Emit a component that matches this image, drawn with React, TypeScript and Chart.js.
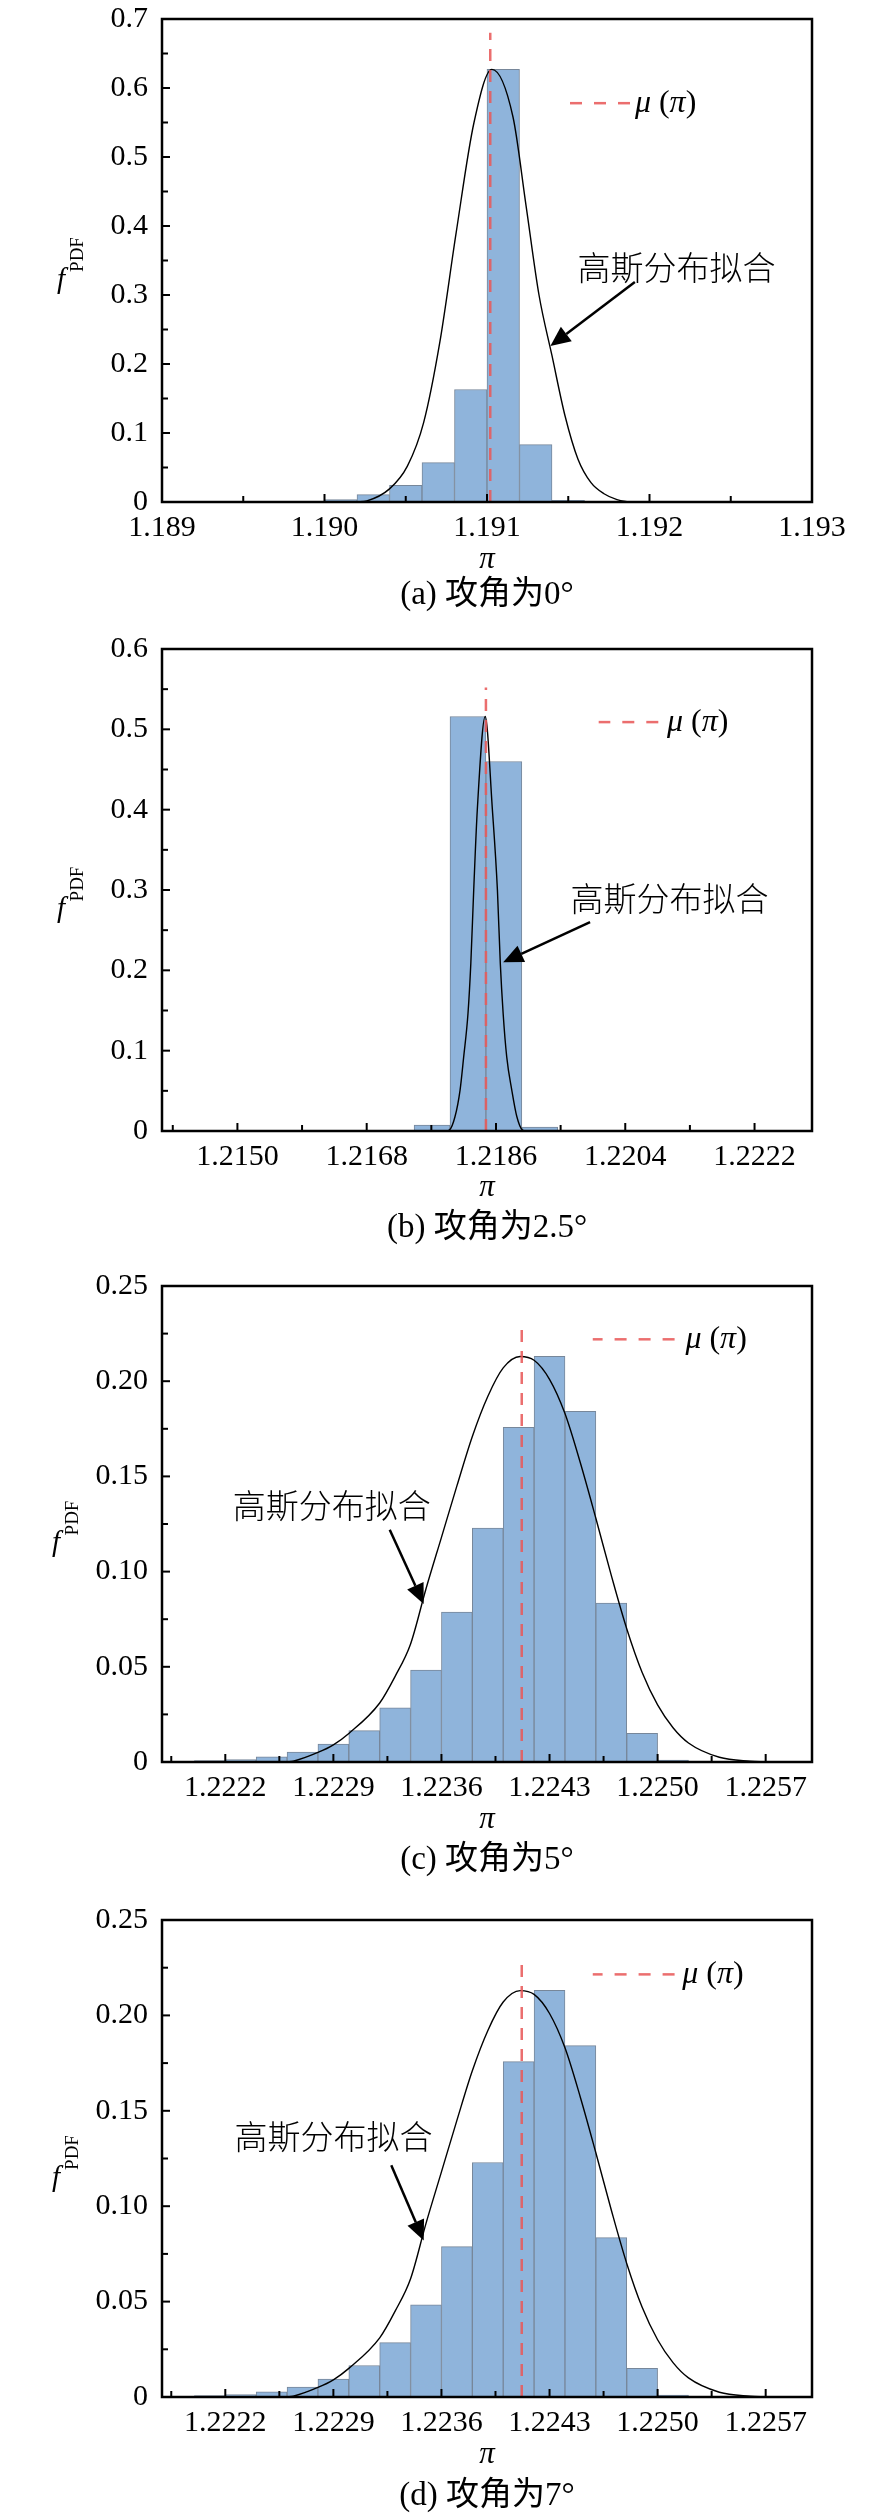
"use client"

import { useEffect, useRef } from "react"
import { Chart, registerables, type ChartConfiguration, type Plugin } from "chart.js"

Chart.register(...registerables)

// (a) 攻角为0°
const binsA = [1.1901, 1.1903, 1.1905, 1.1907, 1.1909, 1.1911, 1.1913, 1.1915]
const pdfA = [0.0035, 0.0107, 0.0242, 0.057, 0.163, 0.627, 0.0832, 0.0025]
const fitXA = [1.1902, 1.19026, 1.1904, 1.19051, 1.19061, 1.19071, 1.19081, 1.19092, 1.19103, 1.19116, 1.19124, 1.19132, 1.1914, 1.19148, 1.19156, 1.19164, 1.19172, 1.1918, 1.19188]
const fitYA = [0, 0.0015, 0.019, 0.052, 0.115, 0.232, 0.39, 0.55, 0.627, 0.558, 0.43, 0.3, 0.212, 0.125, 0.062, 0.028, 0.012, 0.0035, 0]
const meanA = 1.19102
const xTicksA = [1.189, 1.19, 1.191, 1.192, 1.193]
const yTicksA = [0, 0.1, 0.2, 0.3, 0.4, 0.5, 0.6, 0.7]

// (b) 攻角为2.5°
const binsB = [1.21771, 1.21821, 1.21871, 1.21921]
const pdfB = [0.0075, 0.516, 0.46, 0.005]
const fitXB = [1.2179, 1.21795, 1.21803, 1.2181, 1.21815, 1.21821, 1.21825, 1.21829, 1.21834, 1.21845, 1.21855, 1.21862, 1.21866, 1.2187, 1.21875, 1.21882, 1.21889, 1.21897, 1.21902]
const fitYB = [0, 0.001, 0.018, 0.051, 0.092, 0.146, 0.209, 0.3, 0.4, 0.516, 0.4, 0.3, 0.209, 0.146, 0.092, 0.051, 0.018, 0.001, 0]
const meanB = 1.21846
const xTicksB = [1.215, 1.2168, 1.2186, 1.2204, 1.2222]
const yTicksB = [0, 0.1, 0.2, 0.3, 0.4, 0.5, 0.6]

// (c) 攻角为5° and (d) 攻角为7° show the same histogram
const binsC = [1.2221, 1.2223, 1.2225, 1.2227, 1.2229, 1.2231, 1.2233, 1.2235, 1.2237, 1.2239, 1.2241, 1.2243, 1.2245, 1.2247, 1.2249, 1.2251]
const pdfC = [0.0008, 0.0013, 0.0027, 0.0052, 0.0094, 0.0165, 0.0285, 0.0483, 0.0788, 0.1229, 0.1758, 0.2131, 0.1842, 0.0835, 0.015, 0.001]
const fitXC = [1.2226, 1.22264, 1.2228, 1.2229, 1.223, 1.2232, 1.2233, 1.2234, 1.2235, 1.2236, 1.2237, 1.2238, 1.2239, 1.224, 1.22411, 1.2242, 1.2243, 1.2244, 1.2245, 1.2246, 1.2247, 1.2248, 1.2249, 1.225, 1.2251, 1.2252, 1.2254, 1.2256, 1.2257]
const fitYC = [0, 0.0004, 0.005, 0.009, 0.015, 0.031, 0.045, 0.062, 0.091, 0.118, 0.145, 0.171, 0.192, 0.207, 0.213, 0.211, 0.201, 0.183, 0.157, 0.128, 0.098, 0.07, 0.047, 0.03, 0.018, 0.01, 0.0025, 0.0004, 0]
const meanC = 1.22412
const xTicksC = [1.2222, 1.2229, 1.2236, 1.2243, 1.225, 1.2257]
const yTicksC = [0, 0.05, 0.1, 0.15, 0.2, 0.25]

const W = 886
const H = 630
const PLOT_LEFT = 162
const PLOT_RIGHT = 812
const SERIF = '"Liberation Serif", "Times New Roman", serif'
const MIXED = '"Liberation Serif", "Noto Sans CJK SC", serif'
const CJK = '"Noto Sans CJK SC", sans-serif'
const RED = "rgba(232, 90, 90, 0.88)"
const BAR_FILL = "#8fb4db"
const BAR_EDGE = "#77879a"

interface PanelSpec {
  bins: number[]
  pdf: number[]
  fitX: number[]
  fitY: number[]
  mean: number
  meanTop: number
  xMin: number
  xMax: number
  xTicks: number[]
  xDecimals: number
  yMax: number
  yTicks: number[]
  yDecimals: number
  caption: string
  plotTop: number
  plotBottom: number
  yTitleX: number
  piY: number
  captionY: number
  // legend and note anchors, in data units
  legend: { x1: number; x2: number; y: number; textX: number }
  note: { x: number; y: number; fromX: number; fromY: number; toX: number; toY: number }
}

const panels: PanelSpec[] = [
  {
    bins: binsA, pdf: pdfA, fitX: fitXA, fitY: fitYA, mean: meanA, meanTop: 0.68,
    xMin: 1.189, xMax: 1.193, xTicks: xTicksA, xDecimals: 3,
    yMax: 0.7, yTicks: yTicksA, yDecimals: 1,
    caption: "(a) 攻角为0°",
    plotTop: 19, plotBottom: 502, yTitleX: 61, piY: 560, captionY: 595,
    legend: { x1: 1.19151, x2: 1.19188, y: 0.578, textX: 1.19191 },
    note: { x: 1.192166, y: 0.34, fromX: 1.19191, fromY: 0.319, toX: 1.19139, toY: 0.226 },
  },
  {
    bins: binsB, pdf: pdfB, fitX: fitXB, fitY: fitYB, mean: meanB, meanTop: 0.552,
    xMin: 1.21395, xMax: 1.223, xTicks: xTicksB, xDecimals: 4,
    yMax: 0.6, yTicks: yTicksB, yDecimals: 1,
    caption: "(b) 攻角为2.5°",
    plotTop: 19, plotBottom: 501, yTitleX: 61, piY: 558, captionY: 598,
    legend: { x1: 1.22003, x2: 1.22086, y: 0.509, textX: 1.22098 },
    note: { x: 1.221015, y: 0.289, fromX: 1.21991, fromY: 0.26, toX: 1.2187, toY: 0.21 },
  },
  {
    bins: binsC, pdf: pdfC, fitX: fitXC, fitY: fitYC, mean: meanC, meanTop: 0.23,
    xMin: 1.22179, xMax: 1.226, xTicks: xTicksC, xDecimals: 4,
    yMax: 0.25, yTicks: yTicksC, yDecimals: 2,
    caption: "(c) 攻角为5°",
    plotTop: 26, plotBottom: 502, yTitleX: 56, piY: 560, captionY: 600,
    legend: { x1: 1.22458, x2: 1.22511, y: 0.222, textX: 1.22518 },
    note: { x: 1.22289, y: 0.135, fromX: 1.223265, fromY: 0.122, toX: 1.223485, toY: 0.083 },
  },
  {
    bins: binsC, pdf: pdfC, fitX: fitXC, fitY: fitYC, mean: meanC, meanTop: 0.23,
    xMin: 1.22179, xMax: 1.226, xTicks: xTicksC, xDecimals: 4,
    yMax: 0.25, yTicks: yTicksC, yDecimals: 2,
    caption: "(d) 攻角为7°",
    plotTop: 30, plotBottom: 507, yTitleX: 56, piY: 565, captionY: 606,
    legend: { x1: 1.22458, x2: 1.22511, y: 0.2215, textX: 1.22516 },
    note: { x: 1.2229, y: 0.1366, fromX: 1.223275, fromY: 0.1214, toX: 1.223485, toY: 0.082 },
  },
]

function minorTicks(majors: number[], lo: number, hi: number) {
  const step = majors[1] - majors[0]
  const out: number[] = []
  for (let i = -1; i < majors.length; i++) {
    const v = (i < 0 ? majors[0] - step : majors[i]) + step / 2
    if (v > lo + 1e-9 && v < hi - 1e-9) out.push(v)
  }
  return out
}

function decor(spec: PanelSpec): Plugin<"bar"> {
  return {
    id: "decor",
    afterDraw(chart) {
      const { ctx, chartArea: a, scales } = chart
      const X = (v: number) => scales.x.getPixelForValue(v)
      const Y = (v: number) => scales.y.getPixelForValue(v)
      const line = (x1: number, y1: number, x2: number, y2: number) => {
        ctx.beginPath()
        ctx.moveTo(x1, y1)
        ctx.lineTo(x2, y2)
        ctx.stroke()
      }
      ctx.save()

      // frame and inward ticks
      ctx.strokeStyle = "#000"
      ctx.lineWidth = 2.5
      ctx.strokeRect(a.left, a.top, a.right - a.left, a.bottom - a.top)
      ctx.lineWidth = 2
      spec.xTicks.forEach((v) => line(X(v), a.bottom, X(v), a.bottom - 8))
      minorTicks(spec.xTicks, spec.xMin, spec.xMax).forEach((v) => line(X(v), a.bottom, X(v), a.bottom - 6))
      spec.yTicks.forEach((v) => line(a.left, Y(v), a.left + 8, Y(v)))
      minorTicks(spec.yTicks, 0, spec.yMax).forEach((v) => line(a.left, Y(v), a.left + 6, Y(v)))

      // legend
      const lg = spec.legend
      ctx.strokeStyle = RED
      ctx.lineWidth = 2.5
      ctx.setLineDash([12, 12])
      line(X(lg.x2), Y(lg.y), X(lg.x1), Y(lg.y))
      ctx.setLineDash([])
      ctx.fillStyle = "#000"
      ctx.textBaseline = "middle"
      ctx.textAlign = "left"
      let tx = X(lg.textX)
      const ty = Y(lg.y)
      const parts: [string, boolean][] = [["μ", true], [" (", false], ["π", true], [")", false]]
      parts.forEach(([s, it]) => {
        ctx.font = `${it ? "italic " : ""}32px ${SERIF}`
        ctx.fillText(s, tx, ty)
        tx += ctx.measureText(s).width
      })

      // note with arrow
      const nt = spec.note
      ctx.font = `300 33px ${CJK}`
      ctx.textAlign = "center"
      ctx.fillText("高斯分布拟合", X(nt.x), Y(nt.y))
      const fx = X(nt.fromX), fy = Y(nt.fromY), ex = X(nt.toX), ey = Y(nt.toY)
      const ang = Math.atan2(ey - fy, ex - fx)
      const hl = 20, hw = 9
      const bx = ex - hl * Math.cos(ang), by = ey - hl * Math.sin(ang)
      ctx.strokeStyle = "#000"
      ctx.lineWidth = 2.5
      line(fx, fy, bx, by)
      ctx.beginPath()
      ctx.moveTo(ex, ey)
      ctx.lineTo(bx + hw * Math.sin(ang), by - hw * Math.cos(ang))
      ctx.lineTo(bx - hw * Math.sin(ang), by + hw * Math.cos(ang))
      ctx.closePath()
      ctx.fill()

      // axis titles and caption
      const cx = (a.left + a.right) / 2
      ctx.font = `italic 31px ${SERIF}`
      ctx.fillText("π", cx, spec.piY)
      ctx.font = `33px ${MIXED}`
      ctx.fillText(spec.caption, cx, spec.captionY)

      // y title: upright italic f with a rotated "PDF" subscript
      const cy = (a.top + a.bottom) / 2
      ctx.textBaseline = "alphabetic"
      ctx.font = `italic 29px ${SERIF}`
      ctx.fillText("f", spec.yTitleX, cy + 27)
      ctx.translate(spec.yTitleX + 16, cy - 6)
      ctx.rotate(-Math.PI / 2)
      ctx.font = `19px ${SERIF}`
      ctx.fillText("PDF", 0, 6)

      ctx.restore()
    },
  }
}

function Panel({ spec }: { spec: PanelSpec }) {
  const canvasRef = useRef<HTMLCanvasElement>(null)

  useEffect(() => {
    if (!canvasRef.current) return
    const tickFont = { family: SERIF, size: 30 }
    const config: ChartConfiguration<"bar"> = {
      type: "bar",
      data: {
        datasets: [
          {
            type: "bar",
            data: spec.bins.map((x, i) => ({ x, y: spec.pdf[i] })) as any,
            backgroundColor: BAR_FILL,
            borderColor: BAR_EDGE,
            borderWidth: 1,
            barPercentage: 1,
            categoryPercentage: 1,
            order: 3,
          },
          {
            type: "line",
            data: spec.fitX.map((x, i) => ({ x, y: spec.fitY[i] })),
            borderColor: "#000",
            borderWidth: 1.4,
            pointRadius: 0,
            cubicInterpolationMode: "monotone",
            fill: false,
            order: 2,
          } as any,
          {
            type: "line",
            data: [
              { x: spec.mean, y: 0 },
              { x: spec.mean, y: spec.meanTop },
            ],
            borderColor: RED,
            borderWidth: 2.5,
            borderDash: [12, 9],
            pointRadius: 0,
            tension: 0,
            fill: false,
            order: 1,
          } as any,
        ],
      },
      options: {
        responsive: false,
        animation: false,
        events: [],
        layout: { padding: { left: 0, right: W - PLOT_RIGHT, top: spec.plotTop, bottom: 0 } },
        plugins: { legend: { display: false }, tooltip: { enabled: false } },
        scales: {
          x: {
            type: "linear",
            min: spec.xMin,
            max: spec.xMax,
            offset: false,
            grid: { display: false, drawTicks: false, offset: false },
            border: { display: false },
            afterBuildTicks: (s: any) => {
              s.ticks = spec.xTicks.map((value) => ({ value }))
            },
            afterFit: (s: any) => {
              s.height = H - spec.plotBottom
              s.paddingLeft = 0
              s.paddingRight = 0
            },
            ticks: {
              autoSkip: false,
              maxRotation: 0,
              padding: 8,
              color: "#000",
              font: tickFont,
              callback: (v: any) => Number(v).toFixed(spec.xDecimals),
            },
          },
          y: {
            type: "linear",
            min: 0,
            max: spec.yMax,
            grid: { display: false, drawTicks: false },
            border: { display: false },
            afterBuildTicks: (s: any) => {
              s.ticks = spec.yTicks.map((value) => ({ value }))
            },
            afterFit: (s: any) => {
              s.width = PLOT_LEFT
              s.paddingTop = 0
              s.paddingBottom = 0
            },
            ticks: {
              padding: 14,
              color: "#000",
              font: tickFont,
              callback: (v: any) => (Number(v) === 0 ? "0" : Number(v).toFixed(spec.yDecimals)),
            },
          },
        } as any,
      },
      plugins: [decor(spec)],
    }
    const chart = new Chart(canvasRef.current, config)
    return () => chart.destroy()
  }, [spec])

  return <canvas ref={canvasRef} width={W} height={H} style={{ display: "block", width: W, height: H }} />
}

export default function App() {
  return (
    <div style={{ position: "absolute", left: 0, top: 0, width: W, background: "#fff" }}>
      {panels.map((p, i) => (
        <Panel key={i} spec={p} />
      ))}
    </div>
  )
}
